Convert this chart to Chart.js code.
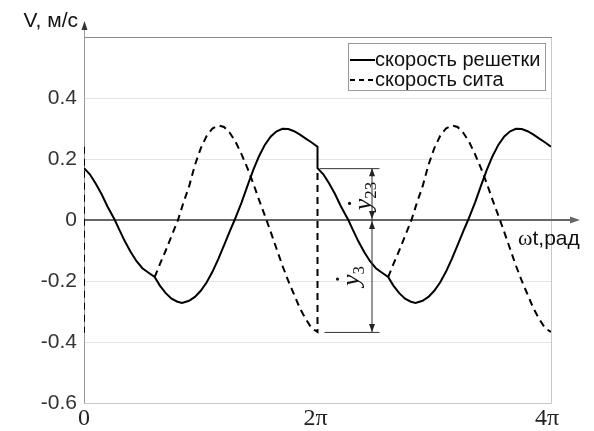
<!DOCTYPE html>
<html lang="ru">
<head>
<meta charset="UTF-8" />
<title>Скорость решетки и сита</title>
<script src="https://cdn.jsdelivr.net/npm/chart.js@4.4.0/dist/chart.umd.min.js"></script>
<style>
  body { margin: 0; background: #fff; }
  #chart { display: block; }
</style>
</head>
<body>
<canvas id="chart" width="594" height="431"></canvas>
<script>
// time in units of pi (0 .. 4), velocity in m/s
const tSolid = [0, 0.05, 0.10, 0.15, 0.20, 0.264, 0.30, 0.35, 0.40, 0.45, 0.50, 0.55, 0.605, 0.65, 0.70, 0.75, 0.80, 0.84, 0.90, 0.95, 1.00, 1.05, 1.10, 1.15, 1.20, 1.25, 1.29, 1.35, 1.40, 1.45, 1.50, 1.55, 1.60, 1.65, 1.70, 1.75, 1.80, 1.85, 1.90, 1.95, 2.00,
                2.00, 2.05, 2.10, 2.15, 2.20, 2.264, 2.30, 2.35, 2.40, 2.45, 2.50, 2.55, 2.605, 2.65, 2.70, 2.75, 2.80, 2.84, 2.90, 2.95, 3.00, 3.05, 3.10, 3.15, 3.20, 3.25, 3.29, 3.35, 3.40, 3.45, 3.50, 3.55, 3.60, 3.65, 3.70, 3.75, 3.80, 3.85, 3.90, 3.95, 4.00];
const vSolid = [0.170, 0.150, 0.120, 0.085, 0.045, 0.000, -0.030, -0.070, -0.105, -0.135, -0.158, -0.172, -0.187, -0.215, -0.240, -0.258, -0.268, -0.272, -0.265, -0.252, -0.232, -0.205, -0.170, -0.128, -0.082, -0.036, 0.000, 0.058, 0.112, 0.164, 0.210, 0.247, 0.274, 0.291, 0.299, 0.298, 0.291, 0.280, 0.267, 0.254, 0.240,
                0.170, 0.150, 0.120, 0.085, 0.045, 0.000, -0.030, -0.070, -0.105, -0.135, -0.158, -0.172, -0.187, -0.215, -0.240, -0.258, -0.268, -0.272, -0.265, -0.252, -0.232, -0.205, -0.170, -0.128, -0.082, -0.036, 0.000, 0.058, 0.112, 0.164, 0.210, 0.247, 0.274, 0.291, 0.299, 0.298, 0.291, 0.280, 0.267, 0.254, 0.240];

// null = break in the dashed line
const tDashed = [0, 0, null,
                 0.605, 0.65, 0.70, 0.75, 0.805, 0.85, 0.90, 0.95, 1.00, 1.05, 1.10, 1.15, 1.20, 1.25, 1.30, 1.35, 1.40, 1.45, 1.50, 1.563, 1.60, 1.65, 1.70, 1.75, 1.80, 1.85, 1.90, 1.95, 2.00, 2.00, null,
                 2.605, 2.65, 2.70, 2.75, 2.805, 2.85, 2.90, 2.95, 3.00, 3.05, 3.10, 3.15, 3.20, 3.25, 3.30, 3.35, 3.40, 3.45, 3.50, 3.563, 3.60, 3.65, 3.70, 3.75, 3.80, 3.85, 3.90, 3.95, 4.00];
const vDashed = [0.240, -0.370, null,
                 -0.187, -0.145, -0.100, -0.052, 0.000, 0.055, 0.110, 0.180, 0.235, 0.275, 0.300, 0.310, 0.305, 0.285, 0.255, 0.215, 0.170, 0.120, 0.065, 0.000, -0.040, -0.095, -0.150, -0.200, -0.245, -0.290, -0.325, -0.355, -0.367, 0.170, null,
                 -0.187, -0.145, -0.100, -0.052, 0.000, 0.055, 0.110, 0.180, 0.235, 0.275, 0.300, 0.310, 0.305, 0.285, 0.255, 0.215, 0.170, 0.120, 0.065, 0.000, -0.040, -0.095, -0.150, -0.200, -0.245, -0.290, -0.325, -0.355, -0.367];

const xTicks = [0, 2, 4];
const xTickLabels = ['0', '2π', '4π'];
const seriesNames = ['скорость решетки', 'скорость сита'];

// marked levels at t = 2π
const markT = 2;
const markTop = 0.170;
const markBottom = -0.367;

const toPoints = (ts, vs) => ts.map((t, i) => (t === null ? {x: null, y: null} : {x: t, y: vs[i]}));

const frame = {
  id: 'frame',
  beforeDatasetsDraw(chart) {
    const {ctx, chartArea: a, scales: {x, y}} = chart;
    ctx.save();
    // box
    ctx.strokeStyle = '#c8c8c8';
    ctx.lineWidth = 1;
    ctx.beginPath();
    ctx.moveTo(a.right + 0.5, a.top);
    ctx.lineTo(a.right + 0.5, a.bottom + 0.5);
    ctx.lineTo(a.left, a.bottom + 0.5);
    ctx.stroke();
    ctx.strokeStyle = '#8a8a8a';
    ctx.beginPath();
    ctx.moveTo(a.left, a.top + 0.5);
    ctx.lineTo(a.right + 1, a.top + 0.5);
    ctx.stroke();
    // x axis through zero with arrow
    const y0 = Math.round(y.getPixelForValue(0));
    ctx.strokeStyle = '#666';
    ctx.fillStyle = '#666';
    ctx.lineWidth = 2;
    ctx.beginPath();
    ctx.moveTo(a.left, y0);
    ctx.lineTo(a.right + 24, y0);
    ctx.stroke();
    ctx.beginPath();
    ctx.moveTo(a.right + 29, y0);
    ctx.lineTo(a.right + 19, y0 - 3.5);
    ctx.lineTo(a.right + 19, y0 + 3.5);
    ctx.closePath();
    ctx.fill();
    // y axis with arrow
    const xa = a.left + 0.5;
    ctx.strokeStyle = '#999';
    ctx.fillStyle = '#333';
    ctx.lineWidth = 1;
    ctx.beginPath();
    ctx.moveTo(xa, a.bottom);
    ctx.lineTo(xa, a.top - 12);
    ctx.stroke();
    ctx.beginPath();
    ctx.moveTo(xa, a.top - 16);
    ctx.lineTo(xa - 3, a.top - 7);
    ctx.lineTo(xa + 3, a.top - 7);
    ctx.closePath();
    ctx.fill();
    ctx.restore();
  },
  afterDraw(chart) {
    const {ctx, chartArea: a, scales: {x, y}} = chart;
    ctx.save();
    // x tick labels (serif, like the source figure)
    ctx.fillStyle = '#222';
    ctx.font = '24px "Liberation Serif", serif';
    ctx.textAlign = 'center';
    ctx.textBaseline = 'middle';
    xTicks.forEach((v, i) => {
      let px = x.getPixelForValue(v);
      if (i === xTicks.length - 1) px -= 4;
      else if (i > 0) px -= 2;
      ctx.fillText(xTickLabels[i], px, a.bottom + 16);
    });

    // axis titles
    ctx.fillStyle = '#111';
    ctx.font = '21px Arial, "Liberation Sans", sans-serif';
    ctx.textBaseline = 'middle';
    ctx.textAlign = 'right';
    ctx.fillText('V, м/с', a.left - 6, 21);
    ctx.textAlign = 'left';
    ctx.font = '22px "Liberation Serif", serif';
    ctx.fillText('ω', a.right - 33, 239);
    const ww = ctx.measureText('ω').width;
    ctx.font = '21px Arial, "Liberation Sans", sans-serif';
    ctx.fillText('t,рад', a.right - 33 + ww, 239);

    // legend
    const lx = 348, ly = 43, lw = 197, lh = 47;
    ctx.fillStyle = '#fff';
    ctx.fillRect(lx, ly, lw, lh);
    ctx.strokeStyle = '#9a9a9a';
    ctx.lineWidth = 1;
    ctx.strokeRect(lx + 0.5, ly + 0.5, lw, lh);
    ctx.strokeStyle = '#000';
    ctx.lineWidth = 2;
    ctx.beginPath();
    ctx.moveTo(lx + 2, 60);
    ctx.lineTo(lx + 27, 60);
    ctx.stroke();
    ctx.setLineDash([5, 4]);
    ctx.beginPath();
    ctx.moveTo(lx + 2, 80);
    ctx.lineTo(lx + 27, 80);
    ctx.stroke();
    ctx.setLineDash([]);
    ctx.fillStyle = '#111';
    ctx.font = '20px Arial, "Liberation Sans", sans-serif';
    ctx.textAlign = 'left';
    ctx.textBaseline = 'middle';
    ctx.fillText(seriesNames[0], lx + 27, 60);
    ctx.fillText(seriesNames[1], lx + 27, 80);

    // dimension marks at 2π
    const xm = x.getPixelForValue(markT);
    const yt = y.getPixelForValue(markTop);
    const y0 = y.getPixelForValue(0);
    const yb = y.getPixelForValue(markBottom);
    const xv = xm + 54;
    ctx.strokeStyle = '#333';
    ctx.fillStyle = '#222';
    ctx.lineWidth = 1;
    ctx.beginPath();
    ctx.moveTo(xm + 2, yt + 0.5); ctx.lineTo(xm + 62, yt + 0.5);
    ctx.moveTo(xm + 7, yb + 0.5); ctx.lineTo(xm + 62, yb + 0.5);
    ctx.moveTo(xv + 0.5, yt); ctx.lineTo(xv + 0.5, yb);
    ctx.stroke();
    const arrow = (px, py, dir) => {
      ctx.beginPath();
      ctx.moveTo(px + 0.5, py);
      ctx.lineTo(px - 2.5, py + dir * 8);
      ctx.lineTo(px + 3.5, py + dir * 8);
      ctx.closePath();
      ctx.fill();
    };
    arrow(xv, yt, 1);
    arrow(xv, y0 - 1, -1);
    arrow(xv, y0 + 1, 1);
    arrow(xv, yb, -1);

    const dimLabel = (cx, cy, sub) => {
      ctx.save();
      ctx.translate(cx, cy);
      ctx.rotate(-Math.PI / 2);
      ctx.font = 'italic 26px "Liberation Serif", serif';
      const w1 = ctx.measureText('y').width;
      ctx.font = '17px "Liberation Serif", serif';
      const w2 = ctx.measureText(sub).width;
      const x0 = -(w1 + w2) / 2;
      ctx.textAlign = 'left';
      ctx.textBaseline = 'alphabetic';
      ctx.fillStyle = '#111';
      ctx.font = 'italic 26px "Liberation Serif", serif';
      ctx.fillText('y', x0, 7);
      ctx.beginPath();
      ctx.arc(x0 + w1 * 0.6, -14, 1.6, 0, Math.PI * 2);
      ctx.fill();
      ctx.font = '17px "Liberation Serif", serif';
      ctx.fillText(sub, x0 + w1, 12);
      ctx.restore();
    };
    dimLabel(xm + 46, (yt + y0) / 2 + 2, '23');
    dimLabel(xm + 34, y0 + 56, '3');
    ctx.restore();
  }
};

new Chart(document.getElementById('chart'), {
  type: 'scatter',
  data: {
    datasets: [
      {label: seriesNames[0], data: toPoints(tSolid, vSolid), showLine: true, borderColor: '#000', borderWidth: 2, pointRadius: 0, spanGaps: false},
      {label: seriesNames[1], data: toPoints(tDashed, vDashed), showLine: true, borderColor: '#000', borderWidth: 2, borderDash: [7, 5], pointRadius: 0, spanGaps: false}
    ]
  },
  options: {
    responsive: false,
    animation: false,
    layout: {padding: {top: 37, right: 43, left: 0, bottom: 0}},
    plugins: {legend: {display: false}, tooltip: {enabled: false}},
    scales: {
      x: {
        type: 'linear', min: 0, max: 4,
        afterFit: s => { s.height = 28; },
        afterBuildTicks: s => { s.ticks = xTicks.map(v => ({value: v})); },
        ticks: {display: false},
        grid: {display: false},
        border: {display: false}
      },
      y: {
        min: -0.6, max: 0.6,
        afterFit: s => { s.width = 84; },
        ticks: {
          stepSize: 0.2,
          callback: v => (v > 0.5 ? '' : String(Math.round(v * 10) / 10)),
          font: {family: 'Arial, "Liberation Sans", sans-serif', size: 21},
          color: '#333', padding: 7
        },
        grid: {color: '#e4e4e4', drawTicks: false},
        border: {display: false}
      }
    }
  },
  plugins: [frame]
});
</script>
</body>
</html>
